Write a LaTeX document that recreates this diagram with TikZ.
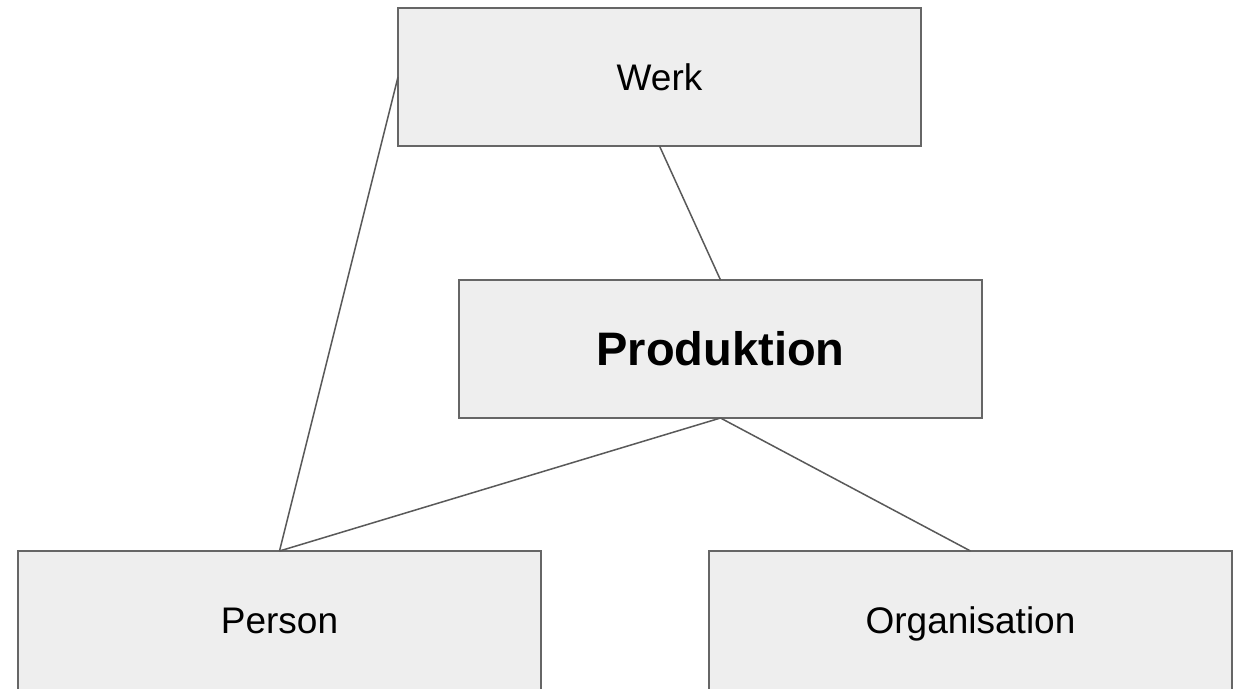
\documentclass[tikz,border=0pt]{standalone}
\usepackage{fontspec}
\setmainfont{Liberation Sans}
\definecolor{boxfill}{HTML}{EEEEEE}
\definecolor{boxline}{HTML}{666666}
\definecolor{conn}{HTML}{595959}
\begin{document}
\begin{tikzpicture}[x=1pt,y=-1pt,
  entity/.style={draw=boxline,line width=2pt,fill=boxfill,minimum width=523pt,minimum height=138pt,inner sep=0pt,outer sep=0pt,font=\fontsize{37}{44}\selectfont,text height=26.5pt,text depth=0pt},
  lowentity/.style={entity,minimum height=150pt,text depth=12pt},
  link/.style={draw=conn,line width=1.5pt}]
\useasboundingbox (0,0) rectangle (1242,688);
\clip (0,0) rectangle (1242,688);
\fill[white] (0,0) rectangle (1242,688);
\node[entity] (werk) at (659.5,77) {Werk};
\node[entity,font=\fontsize{47}{56}\selectfont\bfseries,text height=33.7pt] (prod) at (720.5,349) {Produktion};
\node[lowentity] (person) at (279.5,626) {Person};
\node[lowentity] (org) at (970.5,626) {Organisation};
\draw[link] (werk.west) -- (person.north);
\draw[link] (werk.south) -- (prod.north);
\draw[link] (prod.south) -- (person.north);
\draw[link] (prod.south) -- (org.north);
\end{tikzpicture}
\end{document}
